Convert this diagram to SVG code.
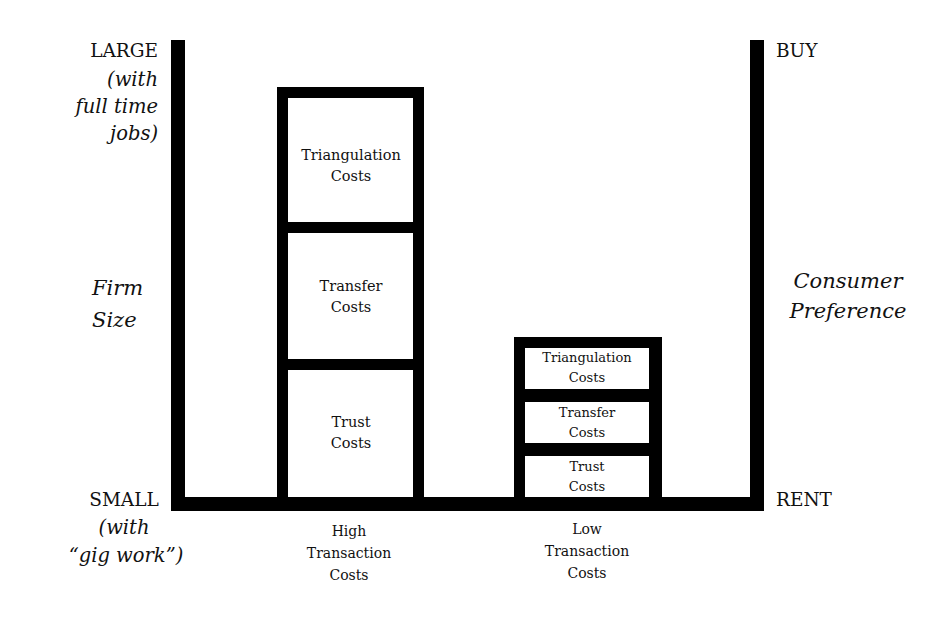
<svg xmlns="http://www.w3.org/2000/svg" width="935" height="632" viewBox="0 0 935 632">
<style>
  .bar { fill: #000; }
  .box { fill: #fff; }
  text { font-family: "DejaVu Serif", "Liberation Serif", serif; fill: #111; }
  .ax { font-size: 18.5px; }
  .it { font-style: italic; font-size: 19.5px; }
  .big { font-style: italic; font-size: 21px; }
  .lb { font-size: 14.5px; text-anchor: middle; }
  .sm { font-size: 13px; text-anchor: middle; }
  .cap { font-size: 14px; text-anchor: middle; }
</style>
<rect width="935" height="632" fill="#fff"/>
<g id="frame">
  <rect class="bar" x="171" y="40" width="14" height="471"/>
  <rect class="bar" x="750" y="40" width="14" height="471"/>
  <rect class="bar" x="171" y="497" width="593" height="14"/>
</g>
<g id="high-stack">
  <rect class="bar" x="277" y="87" width="147" height="411"/>
  <rect class="box" x="288" y="98" width="125" height="124"/>
  <rect class="box" x="288" y="233" width="125" height="126"/>
  <rect class="box" x="288" y="370" width="125" height="127"/>
  <text class="lb" x="351" y="160">Triangulation</text>
  <text class="lb" x="351" y="181">Costs</text>
  <text class="lb" x="351" y="291">Transfer</text>
  <text class="lb" x="351" y="312">Costs</text>
  <text class="lb" x="351" y="427">Trust</text>
  <text class="lb" x="351" y="448">Costs</text>
</g>
<g id="low-stack">
  <rect class="bar" x="514" y="337" width="148" height="161"/>
  <rect class="box" x="525" y="348" width="124" height="41"/>
  <rect class="box" x="525" y="402" width="124" height="41"/>
  <rect class="box" x="525" y="456" width="124" height="41"/>
  <text class="sm" x="587" y="362">Triangulation</text>
  <text class="sm" x="587" y="382">Costs</text>
  <text class="sm" x="587" y="417">Transfer</text>
  <text class="sm" x="587" y="437">Costs</text>
  <text class="sm" x="587" y="471">Trust</text>
  <text class="sm" x="587" y="491">Costs</text>
</g>
<g id="left-axis-labels">
  <text class="ax" x="158" y="57" text-anchor="end">LARGE</text>
  <text class="it" x="158" y="86" text-anchor="end">(with</text>
  <text class="it" x="158" y="113" text-anchor="end">full time</text>
  <text class="it" x="158" y="140" text-anchor="end">jobs)</text>
  <text class="big" x="92" y="295">Firm</text>
  <text class="big" x="92" y="327">Size</text>
  <text class="ax" x="124" y="506" text-anchor="middle">SMALL</text>
  <text class="it" x="124" y="534" text-anchor="middle">(with</text>
  <text class="it" x="126" y="562" text-anchor="middle">“gig work”)</text>
</g>
<g id="right-axis-labels">
  <text class="ax" x="776" y="57">BUY</text>
  <text class="ax" x="776" y="506">RENT</text>
  <text class="big" x="848" y="288" text-anchor="middle">Consumer</text>
  <text class="big" x="848" y="318" text-anchor="middle">Preference</text>
</g>
<g id="captions">
  <text class="cap" x="349" y="536">High</text>
  <text class="cap" x="349" y="558">Transaction</text>
  <text class="cap" x="349" y="580">Costs</text>
  <text class="cap" x="587" y="534">Low</text>
  <text class="cap" x="587" y="556">Transaction</text>
  <text class="cap" x="587" y="578">Costs</text>
</g>
</svg>
